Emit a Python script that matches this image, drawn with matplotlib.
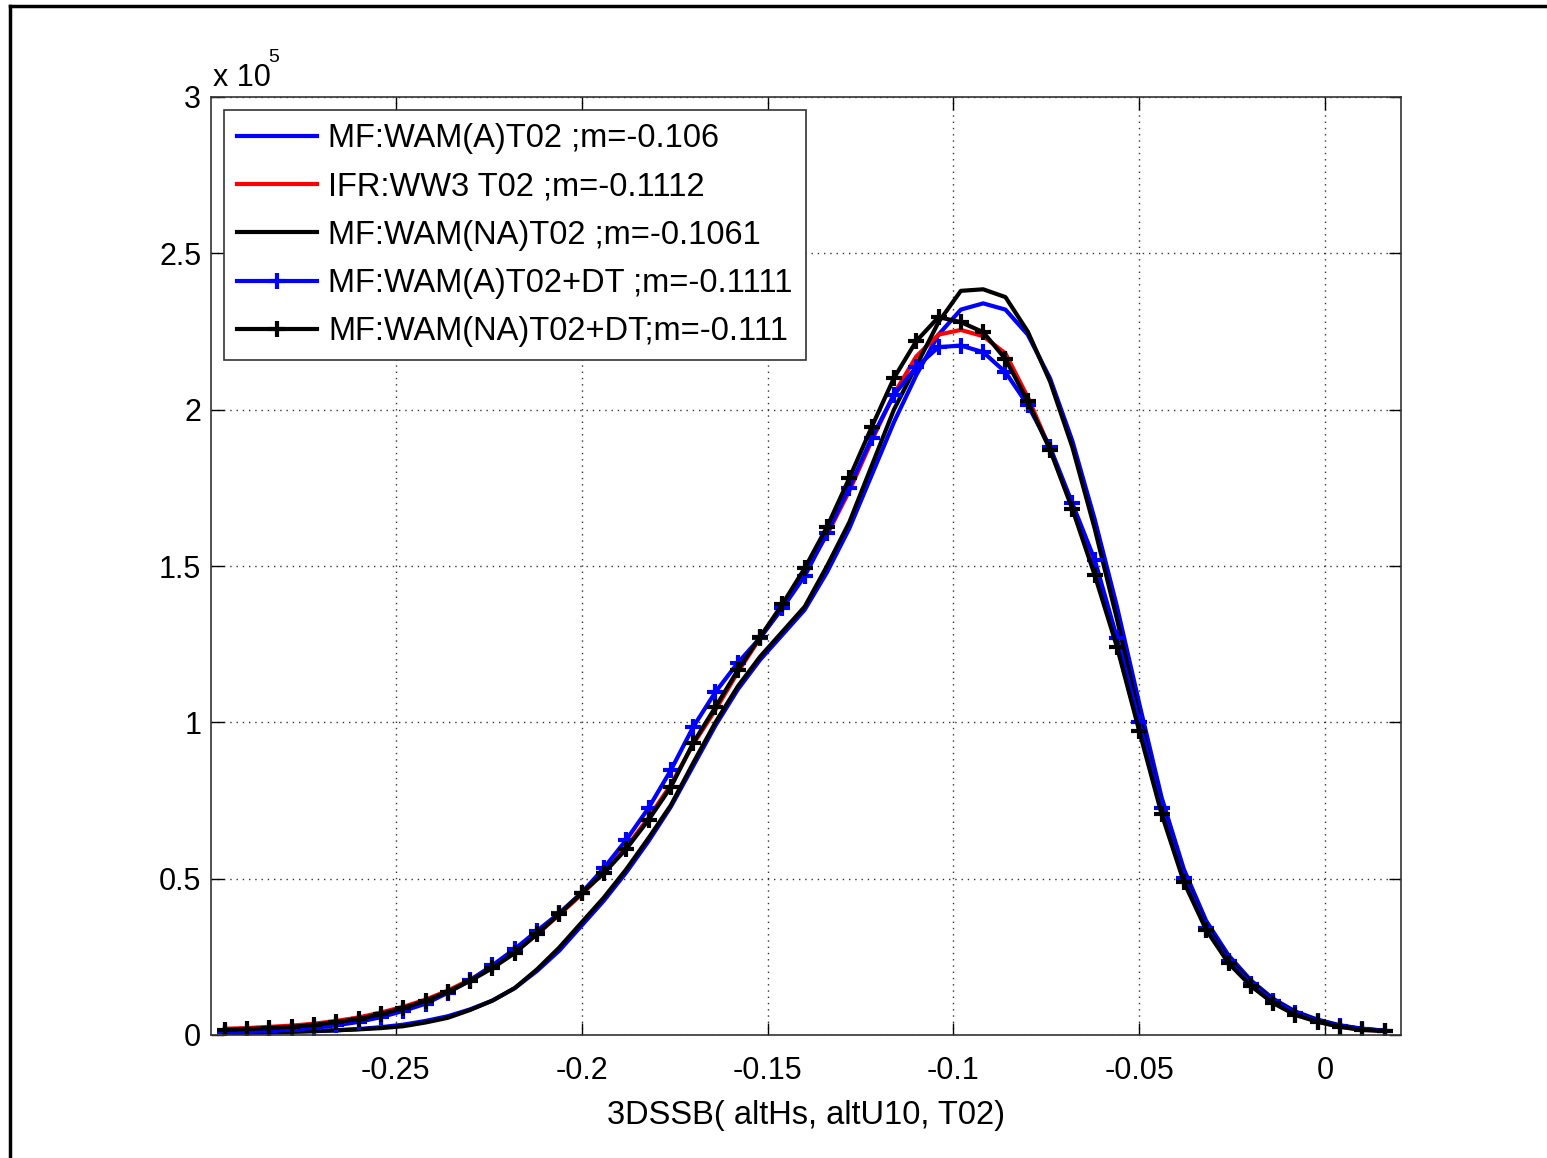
import numpy as np
import matplotlib.pyplot as plt
from matplotlib.lines import Line2D

plt.rcParams['font.family'] = ['Liberation Sans', 'DejaVu Sans']

# histogram bin centres of 3DSSB (m)
ssb_bins = [-0.296, -0.290, -0.284, -0.278, -0.272, -0.266, -0.260, -0.254, -0.248, -0.242,
            -0.236, -0.230, -0.224, -0.218, -0.212, -0.206, -0.200, -0.194, -0.188, -0.182,
            -0.176, -0.170, -0.164, -0.158, -0.152, -0.146, -0.140, -0.134, -0.128, -0.122,
            -0.116, -0.110, -0.104, -0.098, -0.092, -0.086, -0.080, -0.074, -0.068, -0.062,
            -0.056, -0.050, -0.044, -0.038, -0.032, -0.026, -0.020, -0.014, -0.008, -0.002,
            0.004, 0.010, 0.016]

# counts, in units of 1e5
wam_a = [0.006, 0.007, 0.008, 0.010, 0.012, 0.015, 0.019, 0.025, 0.033, 0.045,
         0.060, 0.082, 0.110, 0.150, 0.205, 0.270, 0.350, 0.430, 0.520, 0.620,
         0.730, 0.860, 0.990, 1.105, 1.200, 1.280, 1.360, 1.480, 1.620, 1.790,
         1.960, 2.110, 2.240, 2.320, 2.340, 2.320, 2.240, 2.100, 1.900, 1.650,
         1.370, 1.060, 0.760, 0.530, 0.365, 0.255, 0.175, 0.116, 0.075, 0.049,
         0.031, 0.020, 0.014]
ww3 = [0.020, 0.022, 0.026, 0.030, 0.036, 0.045, 0.056, 0.072, 0.090, 0.113,
       0.142, 0.177, 0.218, 0.265, 0.322, 0.385, 0.450, 0.520, 0.600, 0.695,
       0.800, 0.930, 1.040, 1.160, 1.270, 1.370, 1.480, 1.600, 1.740, 1.900,
       2.050, 2.170, 2.240, 2.255, 2.235, 2.180, 2.040, 1.875, 1.690, 1.480,
       1.250, 0.980, 0.720, 0.500, 0.345, 0.235, 0.160, 0.105, 0.066, 0.043,
       0.027, 0.017, 0.013]
wam_na = [0.008, 0.009, 0.010, 0.011, 0.013, 0.015, 0.018, 0.022, 0.028, 0.040,
          0.055, 0.080, 0.110, 0.150, 0.210, 0.280, 0.360, 0.440, 0.530, 0.630,
          0.735, 0.870, 1.000, 1.115, 1.210, 1.290, 1.370, 1.500, 1.640, 1.820,
          2.000, 2.140, 2.280, 2.380, 2.385, 2.360, 2.250, 2.090, 1.880, 1.620,
          1.330, 1.020, 0.730, 0.510, 0.350, 0.245, 0.170, 0.112, 0.072, 0.047,
          0.030, 0.019, 0.014]
wam_a_dt = [0.008, 0.010, 0.013, 0.017, 0.023, 0.031, 0.042, 0.057, 0.077, 0.100,
            0.135, 0.175, 0.223, 0.275, 0.333, 0.390, 0.455, 0.534, 0.624, 0.726,
            0.847, 0.985, 1.097, 1.190, 1.270, 1.365, 1.468, 1.605, 1.750, 1.909,
            2.047, 2.136, 2.200, 2.205, 2.184, 2.120, 2.015, 1.880, 1.700, 1.520,
            1.270, 1.000, 0.726, 0.502, 0.342, 0.237, 0.163, 0.109, 0.070, 0.045,
            0.029, 0.019, 0.013]
wam_na_dt = [0.016, 0.019, 0.022, 0.026, 0.032, 0.042, 0.051, 0.067, 0.086, 0.109,
             0.138, 0.173, 0.214, 0.262, 0.323, 0.387, 0.454, 0.518, 0.595, 0.688,
             0.793, 0.934, 1.049, 1.167, 1.273, 1.378, 1.493, 1.625, 1.781, 1.944,
             2.101, 2.219, 2.296, 2.280, 2.248, 2.162, 2.027, 1.871, 1.682, 1.471,
             1.241, 0.972, 0.707, 0.489, 0.336, 0.230, 0.157, 0.102, 0.064, 0.042,
             0.026, 0.016, 0.013]

labels = ['MF:WAM(A)T02 ;m=-0.106', 'IFR:WW3 T02 ;m=-0.1112', 'MF:WAM(NA)T02 ;m=-0.1061',
          'MF:WAM(A)T02+DT ;m=-0.1111', 'MF:WAM(NA)T02+DT;m=-0.111']
series = [wam_a, ww3, wam_na, wam_a_dt, wam_na_dt]
colors = ['#0000ff', '#ff0000', '#000000', '#0000ff', '#000000']
markers = ['', '', '', '+', '+']

scale = 1e5
x_ticks = [-0.25, -0.2, -0.15, -0.1, -0.05, 0]
x_ticklabels = ['-0.25', '-0.2', '-0.15', '-0.1', '-0.05', '0']
y_ticks = [0, 0.5, 1, 1.5, 2, 2.5, 3]
y_ticklabels = ['0', '0.5', '1', '1.5', '2', '2.5', '3']

W, H = 1547, 1158
fig = plt.figure(figsize=(W / 100, H / 100), dpi=100)
ax = fig.add_axes([211 / W, 1 - 1035 / H, 1190 / W, 938 / H])

x = np.array(ssb_bins)
for ys, c, m, lab in zip(series, colors, markers, labels):
    ax.plot(x, np.array(ys) * scale, color=c, marker=m if m else None, lw=3,
            markersize=12, mew=3, label=lab)

ax.set_xlim(-0.2997, 0.0204)
ax.set_ylim(0, 3 * scale)
ax.set_xticks(x_ticks)
ax.set_xticklabels(x_ticklabels)
ax.set_yticks([t * scale for t in y_ticks])
ax.set_yticklabels(y_ticklabels)
ax.tick_params(direction='in', length=9, width=1, top=True, right=True,
               labelsize=22, colors='black')
ax.tick_params(axis='x', pad=15)
ax.tick_params(axis='y', pad=7)
ax.grid(True, linestyle=(0, (1, 3.5)), color='#333333', lw=1)
for sp in ax.spines.values():
    sp.set_linewidth(1.2)
    sp.set_color('#333333')

ax.set_xlabel('3DSSB( altHs, altU10, T02)', fontsize=23.5, labelpad=10)

# exponent label in MATLAB style
fig.text(213 / W, 1 - 86 / H, 'x 10', fontsize=22, ha='left', va='baseline')
fig.text(268 / W, 1 - 62 / H, '5', fontsize=14, ha='left', va='baseline')

leg = ax.legend(loc='upper left', bbox_to_anchor=(13 / 1190, 1 - 13 / 938),
                borderaxespad=0, fontsize=23.5, handlelength=2.45, handletextpad=0.35,
                labelspacing=0.53, borderpad=0.4, fancybox=False, framealpha=1)
leg.get_frame().set_edgecolor('#333333')
leg.get_frame().set_linewidth(1.2)

# frame lines of the original window
fig.add_artist(Line2D([10 / W, 1], [1 - 6 / H, 1 - 6 / H], color='black', lw=2.5,
                      transform=fig.transFigure))
fig.add_artist(Line2D([10 / W, 10 / W], [0, 1 - 6 / H], color='black', lw=2.5,
                      transform=fig.transFigure))

fig.savefig('out.png', dpi=100)
